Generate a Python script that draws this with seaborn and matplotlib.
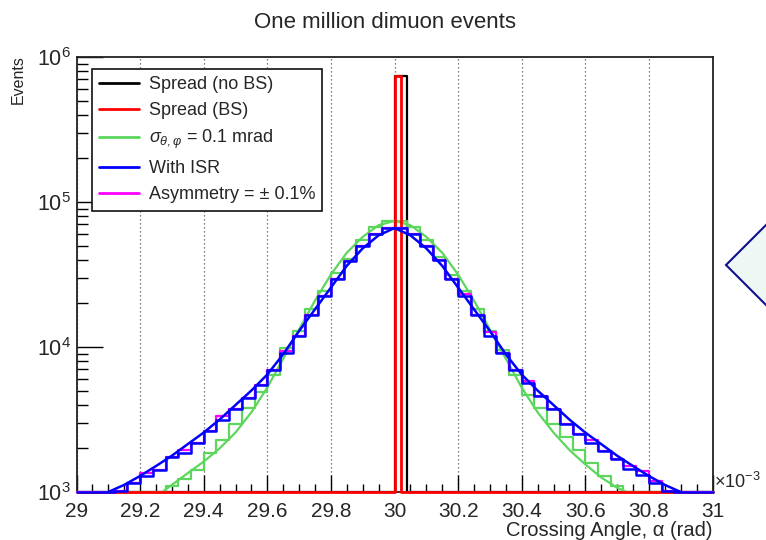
import numpy as np
import pandas as pd
import matplotlib
matplotlib.use("Agg")
import matplotlib.pyplot as plt
import matplotlib.ticker as mticker
from matplotlib.patches import Polygon
from matplotlib.lines import Line2D
import seaborn as sns

# ---------------- data (x in units of 1e-3 rad) ----------------
x_min, x_max = 29.0, 31.0
y_min, y_max = 1e3, 1e6

# 50 bins of 0.04e-3 rad
hist_edges = [round(v, 2) for v in np.linspace(29.0, 31.0, 51)]
# 100 bins of 0.02e-3 rad (beam-spread histogram)
fine_edges = [round(v, 2) for v in np.linspace(29.0, 31.0, 101)]

with_isr = [700, 820, 930, 1020, 1150, 1290, 1410, 1740, 1860, 2190,
            2630, 3160, 3720, 4470, 5500, 6920, 9120, 12000, 16600, 22400,
            29500, 38900, 50100, 60300, 66100, 66100, 60300, 50100, 39800, 29500,
            22400, 16600, 12000, 9120, 6920, 5620, 4570, 3720, 2950, 2510,
            2190, 1910, 1700, 1450, 1320, 1150, 1020, 900, 820, 700]

asymmetry = [700, 820, 930, 1020, 1150, 1350, 1410, 1740, 1950, 2190,
             2630, 3350, 3720, 4470, 5500, 6920, 9400, 12000, 16600, 22400,
             29500, 38900, 50100, 60300, 66100, 66100, 60300, 50100, 39800, 29500,
             23200, 16600, 12600, 9120, 6920, 5800, 4570, 3720, 2950, 2510,
             2290, 1910, 1700, 1500, 1400, 1200, 1020, 900, 820, 700]

sigma_01 = [150, 250, 380, 520, 650, 780, 910, 1100, 1230, 1410,
            1860, 2290, 2950, 3800, 4900, 6460, 9770, 12900, 18200, 24500,
            32400, 40700, 55000, 67600, 74100, 74100, 67600, 55000, 41700, 31600,
            24500, 18200, 12900, 9550, 6460, 4680, 3800, 2950, 2400, 1950,
            1580, 1290, 1100, 910, 780, 650, 520, 380, 250, 150]

spike_bin_lo = 30.00          # no-BS spread: one bin of 0.04
spike_no_bs = 740000
spike_bs = 740000             # BS spread: one bin of 0.02

isr_fit_x = [29.10, 29.15, 29.20, 29.25, 29.30, 29.35, 29.40, 29.45, 29.50, 29.55,
             29.60, 29.65, 29.70, 29.75, 29.80, 29.85, 29.90, 29.95, 30.00,
             30.05, 30.10, 30.15, 30.20, 30.25, 30.30, 30.35, 30.40, 30.45, 30.50,
             30.55, 30.60, 30.65, 30.70, 30.75, 30.80, 30.85, 30.90]
isr_fit_y = [1000, 1120, 1290, 1510, 1780, 2140, 2570, 3160, 3980, 5010,
             6460, 8910, 12900, 18200, 25700, 36300, 47900, 58900, 66100,
             58900, 47900, 36300, 25700, 18200, 12900, 8910, 6460, 5010, 3980,
             3160, 2570, 2140, 1780, 1510, 1290, 1120, 1000]

sig_fit_x = [29.27, 29.30, 29.35, 29.40, 29.45, 29.50, 29.55, 29.60, 29.65, 29.70,
             29.75, 29.80, 29.85, 29.90, 29.95, 30.00, 30.05, 30.10, 30.15, 30.20,
             30.25, 30.30, 30.35, 30.40, 30.45, 30.50, 30.55, 30.60, 30.65, 30.70,
             30.73]
sig_fit_y = [1000, 1120, 1350, 1620, 2000, 2570, 3550, 5250, 8320, 13200,
             20900, 31600, 44700, 57500, 69200, 74100, 69200, 57500, 44700, 31600,
             20900, 13200, 8320, 5250, 3550, 2570, 1950, 1550, 1260, 1070,
             1000]

legend_labels = ["Spread (no BS)", "Spread (BS)", r"$\sigma_{\theta,\varphi}$ = 0.1 mrad",
                 "With ISR", "Asymmetry = ± 0.1%"]
x_tick_values = [29.0, 29.2, 29.4, 29.6, 29.8, 30.0, 30.2, 30.4, 30.6, 30.8, 31.0]
x_tick_labels = ["29", "29.2", "29.4", "29.6", "29.8", "30", "30.2", "30.4", "30.6", "30.8", "31"]

# ---------------- style ----------------
sns.set_style("ticks")
plt.rcParams['font.family'] = ['Liberation Sans', 'DejaVu Sans']
plt.rcParams['mathtext.fontset'] = 'custom'
plt.rcParams['mathtext.rm'] = 'Liberation Sans'
plt.rcParams['mathtext.it'] = 'Liberation Sans:italic'
plt.rcParams['mathtext.bf'] = 'Liberation Sans:bold'

c_black, c_red, c_green, c_blue, c_mag = "#000000", "#ff0000", "#5cd65c", "#0000ff", "#ff00ff"

fig = plt.figure(figsize=(7.66, 5.40), dpi=100)
ax = fig.add_axes([76.5 / 766, 48 / 540, 636 / 766, 435 / 540])


def draw_hist(edges, counts, color, lw, z):
    e = np.asarray(edges, dtype=float)
    centers = (e[:-1] + e[1:]) / 2
    df = pd.DataFrame({"angle": centers,
                       "events": np.clip(np.asarray(counts, dtype=float), y_min, None)})
    sns.histplot(data=df, x="angle", weights="events", bins=list(edges), element="step",
                 fill=False, color=color, linewidth=lw, ax=ax, zorder=z, clip_on=False)


no_bs = [spike_no_bs if abs(e - spike_bin_lo) < 1e-9 else 0 for e in hist_edges[:-1]]
bs = [spike_bs if abs(e - spike_bin_lo) < 1e-9 else 0 for e in fine_edges[:-1]]

draw_hist(hist_edges, no_bs, c_black, 1.6, 3)
draw_hist(hist_edges, sigma_01, c_green, 1.6, 4)
sns.lineplot(x=sig_fit_x, y=sig_fit_y, color=c_green, linewidth=1.6, ax=ax,
             sort=False, estimator=None, zorder=4.5)
draw_hist(fine_edges, bs, c_red, 2.0, 5)
draw_hist(hist_edges, asymmetry, c_mag, 1.6, 6)
draw_hist(hist_edges, with_isr, c_blue, 1.8, 7)
sns.lineplot(x=isr_fit_x, y=isr_fit_y, color=c_blue, linewidth=1.8, ax=ax,
             sort=False, estimator=None, zorder=7.5)

ax.set_yscale("log")
ax.set_xlim(x_min, x_max)
ax.set_ylim(y_min, y_max)

# ticks
ax.xaxis.set_major_locator(mticker.FixedLocator(x_tick_values))
ax.xaxis.set_major_formatter(mticker.FixedFormatter(x_tick_labels))
ax.xaxis.set_minor_locator(mticker.MultipleLocator(0.05))
ax.yaxis.set_major_locator(mticker.LogLocator(base=10, numticks=10))
ax.yaxis.set_minor_locator(mticker.LogLocator(base=10, subs=np.arange(2, 10), numticks=20))
ax.yaxis.set_minor_formatter(mticker.NullFormatter())
ax.tick_params(axis="both", which="both", direction="in", top=False, right=False,
               color="black")
ax.tick_params(axis="x", which="major", length=12, width=1.0, pad=7, labelsize=15)
ax.tick_params(axis="x", which="minor", length=6, width=1.0)
ax.tick_params(axis="y", which="major", length=19, width=1.0, pad=4, labelsize=15.5)
ax.tick_params(axis="y", which="minor", length=8, width=1.0)

ax.xaxis.grid(True, which="major", linestyle=(0, (1, 2.2)), color="#555555", linewidth=0.9)
ax.yaxis.grid(False)
for side in ["left", "bottom", "top", "right"]:
    ax.spines[side].set_visible(True)
    ax.spines[side].set_linewidth(1.3)
    ax.spines[side].set_color("#222222")

ax.set_xlabel("Crossing Angle, α (rad)", loc="right", fontsize=14.5, labelpad=0)
ax.set_ylabel("Events", loc="top", fontsize=11.5)
ax.yaxis.set_label_coords(-0.080, 1.0 + 2 / 435)
ax.text(1.003, 0.0, r"$\times10^{-3}$", transform=ax.transAxes, fontsize=13,
        ha="left", va="bottom")
fig.text(0.503, 0.958, "One million dimuon events", ha="center", va="center", fontsize=16)

handles = [Line2D([], [], color=c, linewidth=2) for c in [c_black, c_red, c_green, c_blue, c_mag]]
leg = ax.legend(handles, legend_labels, loc="upper left", bbox_to_anchor=(0.024, 0.973),
                borderaxespad=0, fontsize=13, frameon=True, fancybox=False, shadow=False,
                handlelength=2.2, handletextpad=0.55, labelspacing=0.5, borderpad=0.4)
leg.get_frame().set_edgecolor("#111111")
leg.get_frame().set_linewidth(1.2)
leg.get_frame().set_alpha(1.0)
leg.set_zorder(10)

# callout shape at the right edge of the slide
fig.add_artist(Polygon([(726 / 766, 1 - 265 / 540), (766 / 766, 1 - 225 / 540),
                        (806 / 766, 1 - 265 / 540), (766 / 766, 1 - 305 / 540)],
                       closed=True, transform=fig.transFigure, facecolor="#eef7f3",
                       edgecolor="#10108f", linewidth=1.5, clip_on=False))

fig.savefig("out.png", dpi=100)
